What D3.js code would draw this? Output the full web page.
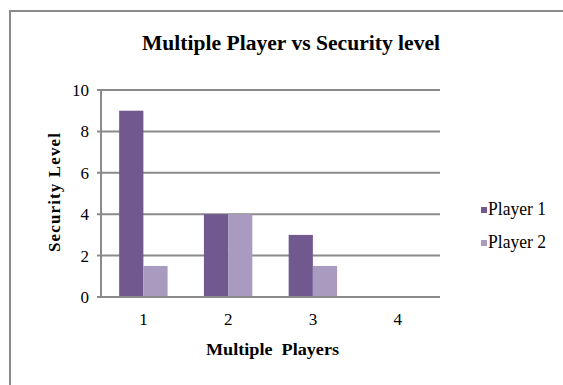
<!DOCTYPE html>
<html>
<head>
<meta charset="utf-8">
<script src="https://cdn.jsdelivr.net/npm/d3@7"></script>
<style>
	body { margin: 0; background: #fff; }
	text { font-family: "Liberation Serif", "Times New Roman", serif; fill: #000; }
</style>
</head>
<body>
<div id="root"></div>
<script>
const categories = ["1", "2", "3", "4"];
const seriesNames = ["Player 1", "Player 2"];
const player1 = [9, 4, 3, 0];
const player2 = [1.5, 4, 1.5, 0];
const yTicks = [0, 2, 4, 6, 8, 10];

const width = 563;
const height = 385;
const colors = ["#71598f", "#a99bc0"];
const gridColor = "#8a8a8a";

const svg = d3.select("#root")
	.append("svg")
		.attr("width", width)
		.attr("height", height);

// outer chart border
svg.append("rect")
	.attr("x", 10).attr("y", 11)
	.attr("width", 600).attr("height", 400)
	.style("fill", "none")
	.style("stroke", gridColor)
	.style("stroke-width", 2);

// scales
const plot = { left: 101, right: 440, top: 90, bottom: 297 };

const y = d3.scaleLinear()
	.domain([0, 10])
	.range([plot.bottom, plot.top]);

const x0 = d3.scaleBand()
	.domain(categories)
	.range([plot.left, plot.right])
	.padding(0);

const x1 = d3.scaleBand()
	.domain(seriesNames)
	.range([0, x0.bandwidth()])
	.paddingInner(0)
	.paddingOuter(0.75);

// gridlines
svg.append("g")
	.selectAll("line")
	.data(yTicks).enter()
	.append("line")
		.attr("x1", plot.left - 4)
		.attr("x2", plot.right)
		.attr("y1", d => y(d))
		.attr("y2", d => y(d))
		.style("stroke", gridColor)
		.style("stroke-width", 2);

// y axis line
svg.append("line")
	.attr("x1", plot.left).attr("x2", plot.left)
	.attr("y1", plot.top).attr("y2", plot.bottom)
	.style("stroke", gridColor)
	.style("stroke-width", 2);

// y tick labels
svg.append("g")
	.selectAll("text")
	.data(yTicks).enter()
	.append("text")
		.text(d => d)
		.attr("x", 89)
		.attr("y", d => y(d) + 6)
		.style("font-size", "17px")
		.style("text-anchor", "end");

// bars
const rows = categories.map((c, i) => ({ cat: c, values: [player1[i], player2[i]] }));

const groups = svg.append("g")
	.selectAll(".group")
	.data(rows).enter()
	.append("g")
		.attr("class", "group")
		.attr("transform", d => `translate(${x0(d.cat)},0)`);

groups.selectAll("rect")
	.data(d => d.values.map((v, j) => ({ name: seriesNames[j], value: v, j: j })))
	.enter()
	.append("rect")
		.attr("x", d => x1(d.name))
		.attr("width", x1.bandwidth())
		.attr("y", d => y(d.value))
		.attr("height", d => y(0) - y(d.value))
		.style("fill", d => colors[d.j]);

// redraw baseline on top of bars
svg.append("line")
	.attr("x1", plot.left - 4).attr("x2", plot.right)
	.attr("y1", y(0)).attr("y2", y(0))
	.style("stroke", gridColor)
	.style("stroke-width", 2);

// x tick labels
svg.append("g")
	.selectAll("text")
	.data(categories).enter()
	.append("text")
		.text(d => d)
		.attr("x", d => x0(d) + x0.bandwidth() / 2)
		.attr("y", 325)
		.style("font-size", "17px")
		.style("text-anchor", "middle");

// title
svg.append("text")
	.text("Multiple Player vs Security level")
	.attr("x", 291)
	.attr("y", 50)
	.attr("textLength", 298)
	.attr("lengthAdjust", "spacingAndGlyphs")
	.style("font-size", "20px")
	.style("font-weight", "bold")
	.style("text-anchor", "middle");

// axis titles
svg.append("text")
	.text("Multiple  Players")
	.style("white-space", "pre")
	.attr("x", 272.5)
	.attr("y", 355)
	.attr("textLength", 133)
	.attr("lengthAdjust", "spacingAndGlyphs")
	.style("font-size", "17px")
	.style("font-weight", "bold")
	.style("text-anchor", "middle");

svg.append("text")
	.text("Security Level")
	.attr("transform", "translate(60,192.5) rotate(-90)")
	.attr("textLength", 119)
	.attr("lengthAdjust", "spacing")
	.style("font-size", "17px")
	.style("font-weight", "bold")
	.style("text-anchor", "middle");

// legend
const legend = svg.append("g")
	.selectAll(".legend")
	.data(seriesNames).enter()
	.append("g")
		.attr("class", "legend")
		.attr("transform", (d, i) => `translate(481,${215 + i * 33})`);

legend.append("rect")
	.attr("x", 0).attr("y", -8)
	.attr("width", 6).attr("height", 6)
	.style("fill", (d, i) => colors[i]);

legend.append("text")
	.text(d => d)
	.attr("x", 7)
	.attr("textLength", 58)
	.attr("lengthAdjust", "spacingAndGlyphs")
	.style("font-size", "18px");
</script>
</body>
</html>
